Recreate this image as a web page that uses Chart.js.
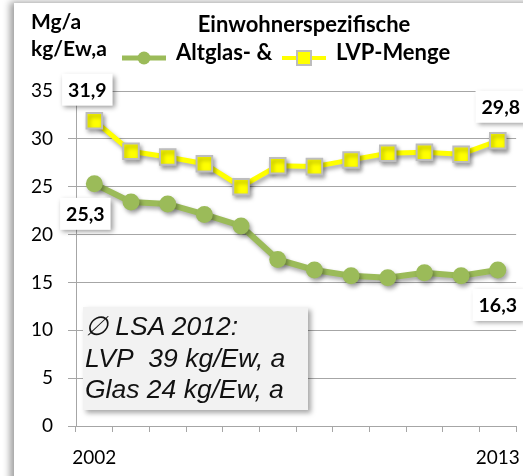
<!DOCTYPE html>
<html>
<head>
<meta charset="utf-8">
<script src="https://cdn.jsdelivr.net/npm/chart.js@4.4.1/dist/chart.umd.min.js"></script>
<style>
  html, body { margin: 0; padding: 0; background: #fff; }
  #wrap { position: relative; width: 523px; height: 476px; overflow: hidden; }
  #frame {
    position: absolute; left: 14px; top: 3px; width: 560px; height: 520px;
    background: #fff; box-shadow: -4px -1px 7px rgba(0, 0, 0, 0.38);
  }
  #chart { position: absolute; left: 0; top: 0; }
  #note {
    position: absolute; left: 83px; top: 307px; width: 225px; height: 103px;
    background: #f2f2f2; box-shadow: 3px 3px 5px rgba(0, 0, 0, 0.35);
    font: italic 26.5px "Liberation Sans", Arial, sans-serif; color: #111;
    line-height: 31.7px; padding: 4px 0 0 2px; box-sizing: border-box;
    white-space: nowrap;
  }
</style>
</head>
<body>
<div id="wrap">
  <div id="frame"></div>
  <canvas id="chart" width="523" height="476"></canvas>
  <div id="note">&#8709; LSA 2012:<br>LVP&nbsp; 39 kg/Ew, a<br>Glas 24 kg/Ew, a</div>
</div>
<script>
/* =====================
   DATA
===================== */
const years = ["2002", "2003", "2004", "2005", "2006", "2007", "2008", "2009", "2010", "2011", "2012", "2013"];
const altglas = [25.3, 23.4, 23.2, 22.1, 20.9, 17.4, 16.3, 15.7, 15.5, 16.0, 15.7, 16.3];
const lvp = [31.9, 28.7, 28.1, 27.4, 25.0, 27.2, 27.1, 27.8, 28.5, 28.6, 28.4, 29.8];
const yTicks = [0, 5, 10, 15, 20, 25, 30, 35];
const shownYears = ["2002", "2013"];

const FONT = "Lato, Calibri, sans-serif";
const GREEN = "#9bbb59";
const YELLOW = "#ffff00";
const GRID = "#a6a6a6";

/* =====================
   HELPER
===================== */
const fmt = v => v.toFixed(1).replace(".", ",");

// value boxes: dataset index, point index, box offset from point
const valueBoxes = [
  { ds: 1, i: 0, dx: -7, dy: -31 },
  { ds: 1, i: 11, dx: 3, dy: -34 },
  { ds: 0, i: 0, dx: -9, dy: 30 },
  { ds: 0, i: 11, dx: 0, dy: 35 }
];

const shadowPlugin = {
  id: "shadow",
  beforeDatasetsDraw(chart) {
    const ctx = chart.ctx;
    ctx.save();
    ctx.shadowColor = "rgba(0,0,0,0.35)";
    ctx.shadowBlur = 4;
    ctx.shadowOffsetX = 2;
    ctx.shadowOffsetY = 3;
  },
  afterDatasetsDraw(chart) {
    const ctx = chart.ctx;
    ctx.restore();

    // value labels
    ctx.save();
    ctx.font = "bold 19.5px " + FONT;
    ctx.textAlign = "center";
    ctx.textBaseline = "middle";
    valueBoxes.forEach(b => {
      const pt = chart.getDatasetMeta(b.ds).data[b.i];
      const txt = fmt(chart.data.datasets[b.ds].data[b.i]);
      const w = ctx.measureText(txt).width + 12;
      const h = 32;
      const cx = pt.x + b.dx, cy = pt.y + b.dy;
      ctx.save();
      ctx.shadowColor = "rgba(0,0,0,0.4)";
      ctx.shadowBlur = 5;
      ctx.shadowOffsetX = 2;
      ctx.shadowOffsetY = 2;
      ctx.fillStyle = "#fff";
      ctx.fillRect(cx - w / 2, cy - h / 2, w, h);
      ctx.restore();
      ctx.fillStyle = "#000";
      ctx.fillText(txt, cx, cy + 1);
    });
    ctx.restore();
  }
};

const headerPlugin = {
  id: "header",
  afterDraw(chart) {
    const ctx = chart.ctx;
    const ds = chart.data.datasets;
    ctx.save();
    ctx.fillStyle = "#000";
    ctx.textBaseline = "alphabetic";

    ctx.font = "bold 21px " + FONT;
    ctx.textAlign = "left";
    ctx.fillText("Mg/a", 31, 29);
    ctx.fillText("kg/Ew,a", 31, 56);

    ctx.font = "bold 22px " + FONT;
    ctx.textAlign = "center";
    ctx.fillText("Einwohnerspezifische", 304, 32);

    // legend
    const items = [
      { d: ds[0], x0: 122, x1: 166 },
      { d: ds[1], x0: 282, x1: 326 }
    ];
    items.forEach(it => {
      const y = 58;
      ctx.save();
      ctx.strokeStyle = it.d.borderColor;
      ctx.lineWidth = it.d.borderWidth - 1;
      ctx.beginPath();
      ctx.moveTo(it.x0, y);
      ctx.lineTo(it.x1, y);
      ctx.stroke();
      const cx = (it.x0 + it.x1) / 2;
      ctx.fillStyle = it.d.pointBackgroundColor;
      ctx.strokeStyle = it.d.pointBorderColor;
      ctx.lineWidth = it.d.pointBorderWidth;
      if (it.d.pointStyle === "rect") {
        ctx.fillRect(cx - 7, y - 7, 14, 14);
        ctx.strokeRect(cx - 7, y - 7, 14, 14);
      } else {
        ctx.beginPath();
        ctx.arc(cx, y, 6.5, 0, Math.PI * 2);
        ctx.fill();
      }
      ctx.restore();
      ctx.textAlign = "left";
      ctx.font = "bold 22px " + FONT;
      ctx.fillText(it.d.label, it.x1 + 10, 60);
    });
    ctx.restore();
  }
};

/* =====================
   CHART
===================== */
new Chart(document.getElementById("chart"), {
  type: "line",
  data: {
    labels: years,
    datasets: [
      {
        label: "Altglas- &",
        data: altglas,
        borderColor: GREEN,
        borderWidth: 6,
        pointStyle: "circle",
        pointRadius: 8.5,
        pointBackgroundColor: GREEN,
        pointBorderColor: GREEN,
        pointBorderWidth: 0,
        tension: 0,
        clip: false
      },
      {
        label: "LVP-Menge",
        data: lvp,
        borderColor: YELLOW,
        borderWidth: 5,
        pointStyle: "rect",
        pointRadius: 11,
        pointBackgroundColor: YELLOW,
        pointBorderColor: "#bdbdbd",
        pointBorderWidth: 2,
        tension: 0,
        clip: false
      }
    ]
  },
  options: {
    responsive: false,
    animation: false,
    events: [],
    layout: { autoPadding: false, padding: { top: 91, right: 4, left: 0, bottom: 0 } },
    plugins: { legend: { display: false }, tooltip: { enabled: false } },
    scales: {
      x: {
        offset: true,
        afterFit: s => { s.height = 50; },
        grid: { offset: true, drawOnChartArea: false, color: GRID, tickLength: 6 },
        border: { color: GRID },
        ticks: {
          autoSkip: false,
          maxRotation: 0,
          padding: 3,
          color: "#000",
          font: { family: FONT, size: 19, lineHeight: 2.4 },
          callback: (v, i) => shownYears.includes(years[i]) ? years[i] : ""
        }
      },
      y: {
        min: 0,
        max: 35,
        afterFit: s => { s.width = 76; },
        afterBuildTicks: s => { s.ticks = yTicks.map(v => ({ value: v })); },
        grid: { color: GRID, tickLength: 8 },
        border: { color: GRID },
        ticks: {
          padding: 15,
          color: "#000",
          font: { family: FONT, size: 19 }
        }
      }
    }
  },
  plugins: [shadowPlugin, headerPlugin]
});
</script>
</body>
</html>
